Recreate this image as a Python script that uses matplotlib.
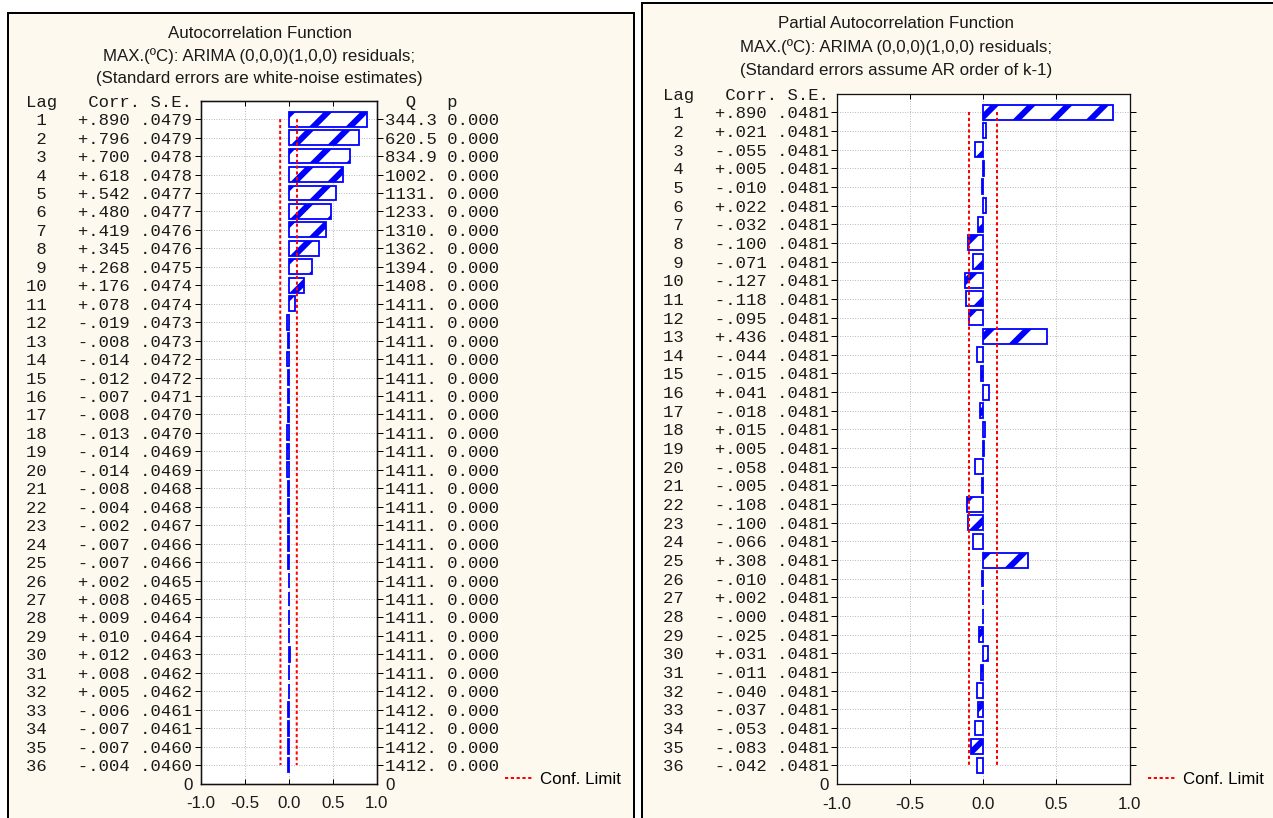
import matplotlib
matplotlib.use("Agg")
import matplotlib.pyplot as plt
from matplotlib.patches import Rectangle
from matplotlib.lines import Line2D

W, H, DPI = 1273, 818, 220
PX = 72 / DPI  # one pixel in points

MONO = "Liberation Mono"
SANS = "Liberation Sans"
CREAM = "#FEF9EE"
BLUE = "#0000FF"

# ---- data ----
lags = list(range(1, 37))

acf = [.890, .796, .700, .618, .542, .480, .419, .345, .268, .176, .078, -.019,
       -.008, -.014, -.012, -.007, -.008, -.013, -.014, -.014, -.008, -.004, -.002, -.007,
       -.007, .002, .008, .009, .010, .012, .008, .005, -.006, -.007, -.007, -.004]
acf_se = [.0479, .0479, .0478, .0478, .0477, .0477, .0476, .0476, .0475, .0474, .0474, .0473,
          .0473, .0472, .0472, .0471, .0470, .0470, .0469, .0469, .0468, .0468, .0467, .0466,
          .0466, .0465, .0465, .0464, .0464, .0463, .0462, .0462, .0461, .0461, .0460, .0460]
acf_q = [344.3, 620.5, 834.9, 1002, 1131, 1233, 1310, 1362, 1394, 1408, 1411, 1411,
         1411, 1411, 1411, 1411, 1411, 1411, 1411, 1411, 1411, 1411, 1411, 1411,
         1411, 1411, 1411, 1411, 1411, 1411, 1411, 1412, 1412, 1412, 1412, 1412]
acf_p = [0.0, 0.0, 0.0, 0.0, 0.0, 0.0, 0.0, 0.0, 0.0, 0.0, 0.0, 0.0,
         0.0, 0.0, 0.0, 0.0, 0.0, 0.0, 0.0, 0.0, 0.0, 0.0, 0.0, 0.0,
         0.0, 0.0, 0.0, 0.0, 0.0, 0.0, 0.0, 0.0, 0.0, 0.0, 0.0, 0.0]

pacf = [.890, .021, -.055, .005, -.010, .022, -.032, -.100, -.071, -.127, -.118, -.095,
        .436, -.044, -.015, .041, -.018, .015, .005, -.058, -.005, -.108, -.100, -.066,
        .308, -.010, .002, -0.000, -.025, .031, -.011, -.040, -.037, -.053, -.083, -.042]
pacf_se = [.0481, .0481, .0481, .0481, .0481, .0481, .0481, .0481, .0481, .0481, .0481, .0481,
           .0481, .0481, .0481, .0481, .0481, .0481, .0481, .0481, .0481, .0481, .0481, .0481,
           .0481, .0481, .0481, .0481, .0481, .0481, .0481, .0481, .0481, .0481, .0481, .0481]

x_ticks = [-1.0, -0.5, 0.0, 0.5, 1.0]
x_labels = ["-1.0", "-0.5", "0.0", "0.5", "1.0"]

acf_title = ["Autocorrelation Function",
             "MAX.(ºC): ARIMA (0,0,0)(1,0,0) residuals;",
             "(Standard errors are white-noise estimates)"]
pacf_title = ["Partial Autocorrelation Function",
              "MAX.(ºC): ARIMA (0,0,0)(1,0,0) residuals;",
              "(Standard errors assume AR order of k-1)"]


def fmt_corr(v):
    return f"{v:+.3f}".replace("0.", ".", 1)


def fmt_se(v):
    return f"{v:.4f}"[1:]


def fmt_q(q):
    return f"{q:.1f}" if q < 1000 else f"{q:.0f}."


def fx(px):
    return px / W


def fy(py):
    return 1 - py / H


plt.rcParams["font.family"] = SANS
plt.rcParams["hatch.linewidth"] = 6 * PX
plt.rcParams["hatch.color"] = BLUE

fig = plt.figure(figsize=(W / DPI, H / DPI), dpi=DPI, facecolor="white")

# panel frames
fig.add_artist(Rectangle((fx(8.3), fy(840)), (634 - 8.3) / W, (840 - 13.3) / H,
                         transform=fig.transFigure, facecolor=CREAM, edgecolor="black",
                         linewidth=2 * PX, zorder=-1))
fig.add_artist(Rectangle((fx(642.2), fy(840)), (1290 - 642.2) / W, (840 - 3.2) / H,
                         transform=fig.transFigure, facecolor=CREAM, edgecolor="black",
                         linewidth=2 * PX, zorder=-1))

FS_MONO = 17.2 * PX
FS_SANS = 16.9 * PX
CONF_LS = (0, (1.6, 1.3))


def panel(left, right, top, bottom, corr, se, q=None, p=None):
    ax = fig.add_axes([fx(left), fy(bottom), (right - left) / W, (bottom - top) / H])
    ax.set_facecolor("white")
    ax.set_xlim(-1, 1)
    ax.set_ylim(37, 0)

    ax.barh(lags, corr, height=0.8, left=0, color="white", edgecolor=BLUE,
            hatch="//", linewidth=1.8 * PX, zorder=3)
    ax.plot([2 * s for s in se], lags, color="red", lw=2 * PX, ls=CONF_LS, zorder=4)
    ax.plot([-2 * s for s in se], lags, color="red", lw=2 * PX, ls=CONF_LS, zorder=4)

    rows = [f"{l:2d}   {fmt_corr(c)} {fmt_se(s)}" for l, c, s in zip(lags, corr, se)]
    ax.set_yticks(lags, labels=rows, fontfamily=MONO, fontsize=FS_MONO, color="#1a1a1a")
    ax.set_yticks([0, 37], labels=["Lag   Corr. S.E.", "0"], minor=True,
                  fontsize=FS_MONO, color="#1a1a1a")
    mins = ax.get_yticklabels(minor=True)
    mins[0].set_fontfamily(MONO)
    mins[1].set_fontfamily(SANS)
    mins[1].set_fontsize(FS_SANS)

    ax.set_xticks(x_ticks, labels=x_labels, fontsize=FS_SANS, color="#1a1a1a")
    ax.tick_params(axis="x", direction="in", top=True, bottom=True,
                   length=5 * PX, width=1 * PX, pad=13 * PX)
    ax.tick_params(axis="y", which="major", direction="out", left=True, right=True,
                   length=6 * PX, width=1 * PX, pad=2 * PX)
    ax.tick_params(axis="y", which="minor", length=0, pad=8 * PX)

    ax.grid(True, which="major", color="#BDBDBD", linestyle=(0, (1, 1.5)),
            linewidth=1 * PX)
    ax.set_axisbelow(True)
    for s in ax.spines.values():
        s.set_linewidth(1.3 * PX)
        s.set_color("#111111")

    if q is not None:
        axr = ax.twinx()
        axr.set_ylim(37, 0)
        qrows = [f"{fmt_q(a)} {b:.3f}" for a, b in zip(q, p)]
        axr.set_yticks(lags, labels=qrows, fontfamily=MONO, fontsize=FS_MONO,
                       color="#1a1a1a")
        axr.set_yticks([0, 37], labels=["  Q   p", "0"], minor=True,
                       fontsize=FS_MONO, color="#1a1a1a")
        rm = axr.get_yticklabels(minor=True)
        rm[0].set_fontfamily(MONO)
        rm[1].set_fontfamily(SANS)
        rm[1].set_fontsize(FS_SANS)
        axr.tick_params(axis="y", which="major", direction="out", length=6 * PX,
                        width=1 * PX, pad=2.5 * PX)
        axr.tick_params(axis="y", which="minor", length=0, pad=8.5 * PX)
        for s in axr.spines.values():
            s.set_linewidth(1.3 * PX)
            s.set_color("#111111")
    return ax


def add_legend(ax, x, y):
    ax.legend([Line2D([], [], color="red", lw=2 * PX, ls=CONF_LS)],
              ["Conf. Limit"], loc="center left", bbox_to_anchor=(fx(x), fy(y)),
              bbox_transform=fig.transFigure, frameon=False, borderpad=0,
              borderaxespad=0, handlelength=28 / 16.9, handletextpad=7 / 16.9,
              prop={"family": SANS, "size": FS_SANS})


ax1 = panel(200.5, 376.7, 100.7, 783.5, acf, acf_se, acf_q, acf_p)
ax2 = panel(836.7, 1129.5, 93.6, 784.0, pacf, pacf_se)

add_legend(ax1, 505, 779)
add_legend(ax2, 1148, 779)

for txt, yy in zip(acf_title, [34, 56, 78]):
    fig.text(fx(259.5), fy(yy), txt, ha="center", va="center", fontsize=FS_SANS,
             color="#1a1a1a")
for txt, yy in zip(pacf_title, [24, 47.5, 71]):
    fig.text(fx(896), fy(yy), txt, ha="center", va="center", fontsize=FS_SANS,
             color="#1a1a1a")

fig.savefig("out.png", dpi=DPI, facecolor="white")
